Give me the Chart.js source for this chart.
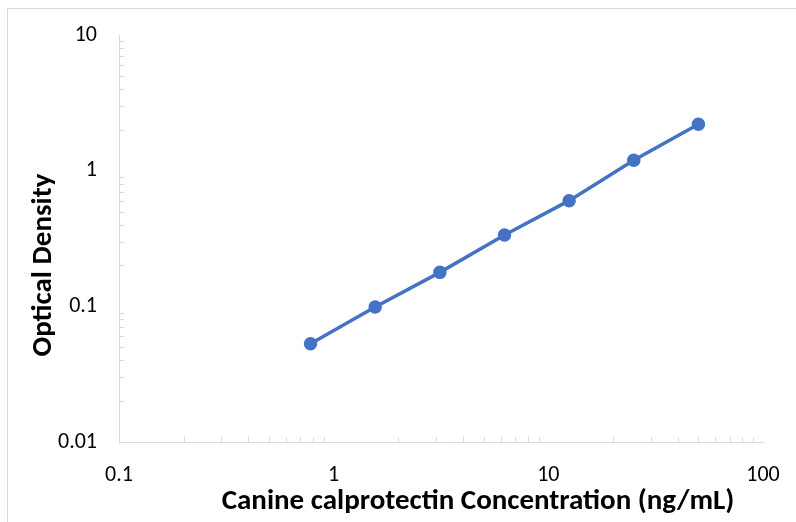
<!DOCTYPE html>
<html>
<head>
<meta charset="utf-8">
<script src="https://cdn.jsdelivr.net/npm/chart.js@4/dist/chart.umd.min.js"></script>
<style>
  html, body { margin: 0; padding: 0; background: #fff; }
  #frame { position: absolute; left: 7px; top: 8px; width: 900px; height: 600px; border: 1px solid #d9d9d9; box-sizing: border-box; }
  #c { position: absolute; left: 0; top: 0; }
</style>
</head>
<body>
<div id="frame"></div>
<canvas id="c" width="796" height="522"></canvas>
<script>
const concentrations = [0.78, 1.56, 3.125, 6.25, 12.5, 25, 50];
const opticalDensity = [0.053, 0.099, 0.178, 0.336, 0.601, 1.195, 2.2];
const xTicks = [0.1, 1, 10, 100];
const yTicks = [0.01, 0.1, 1, 10];
const xTitle = 'Canine calprotectin Concentration (ng/mL)';
const yTitle = 'Optical Density';

const FONT = 'Carlito, Lato, sans-serif';
const AXIS_COLOR = '#d9d9d9';

const minorTicks = {
  id: 'minorTicks',
  afterDraw(chart) {
    const ctx = chart.ctx;
    const xs = chart.scales.x, ys = chart.scales.y;
    ctx.save();
    ctx.strokeStyle = AXIS_COLOR;
    ctx.lineWidth = 1;
    ctx.beginPath();
    for (let k = -1; k < 2; k++) {
      for (let m = 2; m <= 9; m++) {
        const v = m * Math.pow(10, k);
        if (v > xs.min && v < xs.max) {
          const px = Math.round(xs.getPixelForValue(v)) + 0.5;
          ctx.moveTo(px, ys.bottom);
          ctx.lineTo(px, ys.bottom - 5);
        }
      }
    }
    for (let k = -2; k < 1; k++) {
      for (let m = 2; m <= 9; m++) {
        const v = m * Math.pow(10, k);
        if (v > ys.min && v < ys.max) {
          const py = Math.round(ys.getPixelForValue(v)) + 0.5;
          ctx.moveTo(xs.left, py);
          ctx.lineTo(xs.left + 5, py);
        }
      }
    }
    ctx.stroke();
    ctx.restore();
  }
};

// Axis titles (Excel-style placement, offset from the plot centre)
const axisTitles = {
  id: 'axisTitles',
  afterDraw(chart) {
    const ctx = chart.ctx;
    ctx.save();
    ctx.fillStyle = '#000';
    ctx.font = 'bold 29px ' + FONT;
    ctx.textAlign = 'center';
    ctx.textBaseline = 'middle';
    ctx.fillText(xTitle, 478, 502);
    ctx.translate(44, 265);
    ctx.rotate(-Math.PI / 2);
    ctx.fillText(yTitle, 0, 0);
    ctx.restore();
  }
};

const fmt = v => String(v);

new Chart(document.getElementById('c'), {
  type: 'line',
  data: {
    datasets: [{
      data: concentrations.map((x, i) => ({ x: x, y: opticalDensity[i] })),
      borderColor: '#4472C4',
      backgroundColor: '#4472C4',
      borderWidth: 3.5,
      pointRadius: 6,
      pointBorderWidth: 1.5,
      pointHoverRadius: 6,
      tension: 0,
      fill: false
    }]
  },
  options: {
    responsive: false,
    animation: false,
    devicePixelRatio: 1,
    layout: { padding: { top: 35, right: 33, left: 0, bottom: 0 } },
    plugins: { legend: { display: false }, tooltip: { enabled: false } },
    scales: {
      x: {
        type: 'logarithmic',
        min: 0.1, max: 100,
        afterBuildTicks: s => { s.ticks = xTicks.map(v => ({ value: v })); },
        afterFit: s => { s.height = 80; },
        grid: { display: false },
        border: { display: true, color: AXIS_COLOR, width: 1 },
        ticks: {
          callback: v => fmt(v),
          font: { family: FONT, size: 22 },
          color: '#000',
          padding: 12,
          maxRotation: 0, autoSkip: false
        },
        title: { display: false }
      },
      y: {
        type: 'logarithmic',
        min: 0.01, max: 10,
        afterBuildTicks: s => { s.ticks = yTicks.map(v => ({ value: v })); },
        afterFit: s => { s.width = 119; },
        grid: { display: false },
        border: { display: true, color: AXIS_COLOR, width: 1 },
        ticks: {
          callback: v => fmt(v),
          font: { family: FONT, size: 22 },
          color: '#000',
          padding: 14,
          autoSkip: false
        },
        title: { display: false }
      }
    }
  },
  plugins: [minorTicks, axisTitles]
});
</script>
</body>
</html>
